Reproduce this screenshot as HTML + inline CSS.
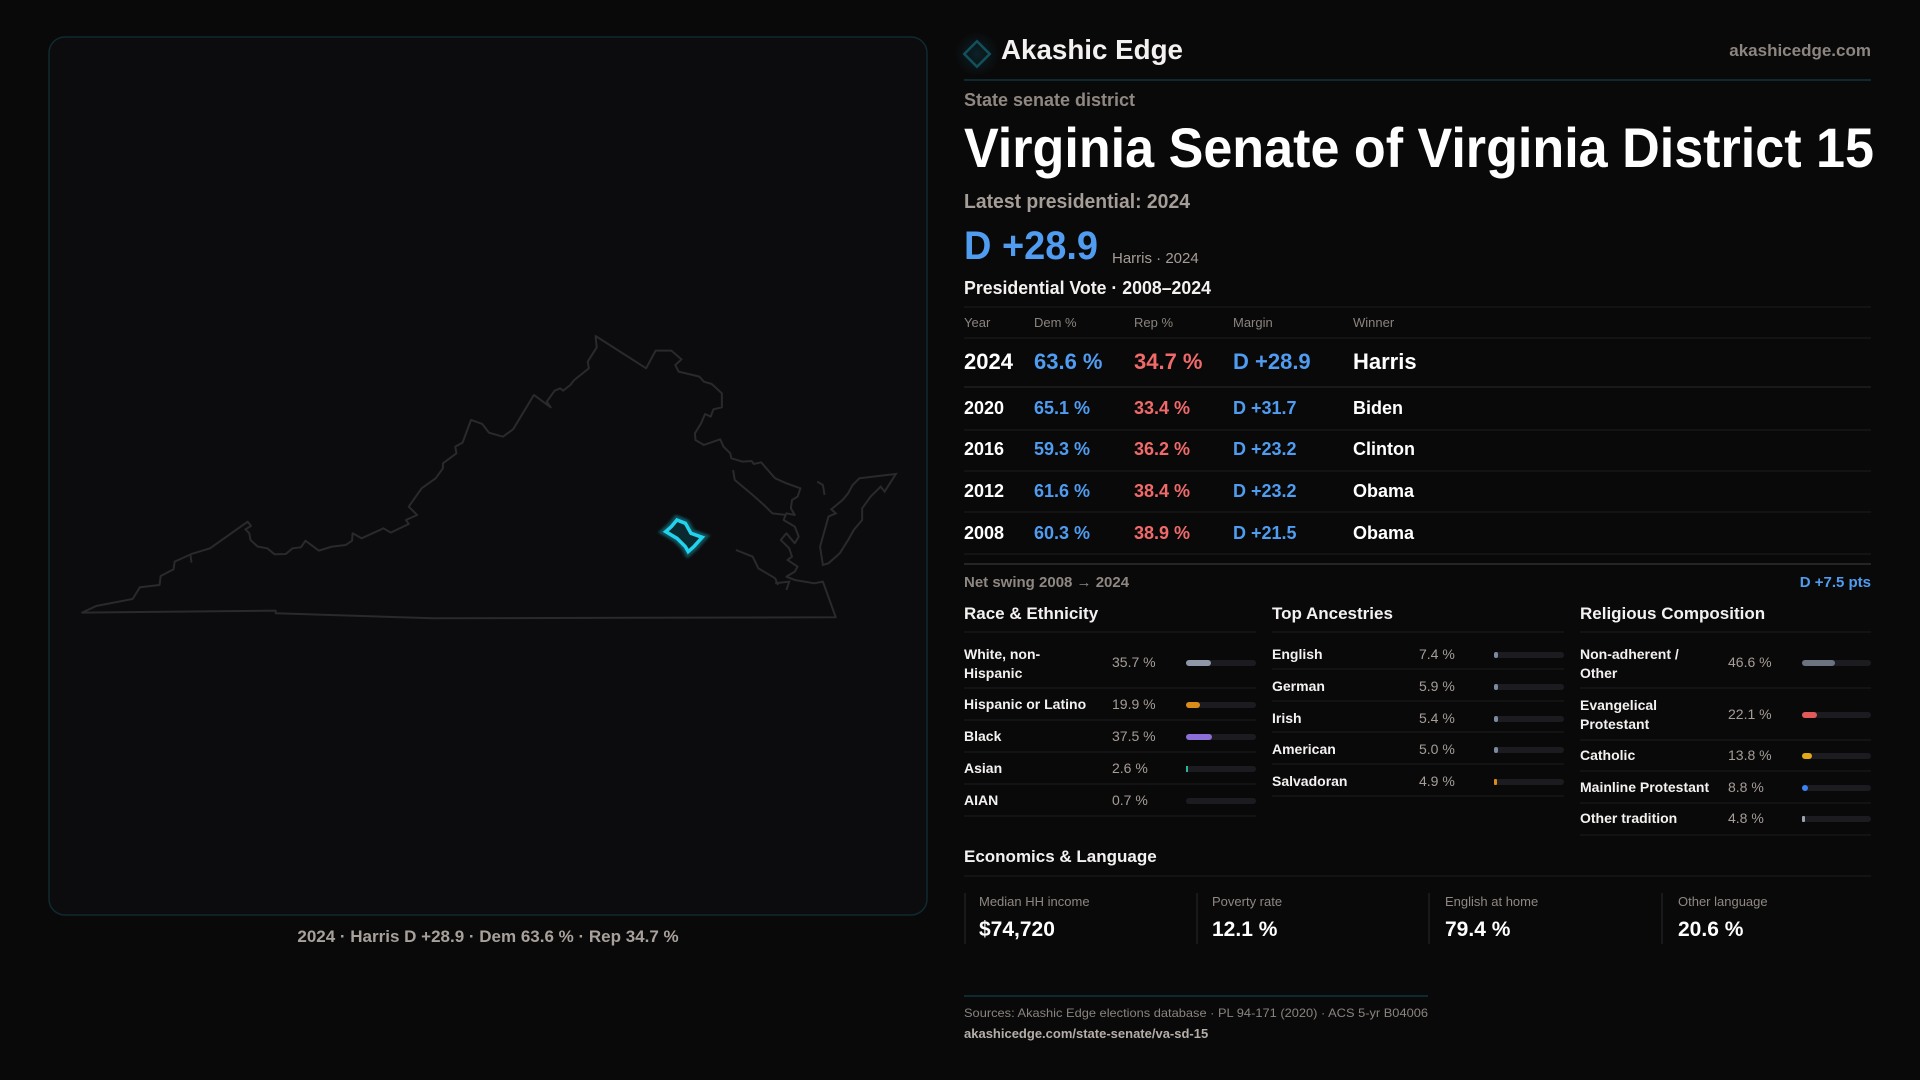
<!DOCTYPE html>
<html><head><meta charset="utf-8"><style>
html,body{margin:0;padding:0;background:#0a090a;}
svg{display:block}
text{font-family:"Liberation Sans",sans-serif;}
</style></head><body>
<svg width="1920" height="1080" viewBox="0 0 1920 1080" xmlns="http://www.w3.org/2000/svg">
<defs>
<filter id="glow" x="-50%" y="-50%" width="200%" height="200%"><feGaussianBlur stdDeviation="3"/></filter>
<radialGradient id="lg" cx="0.5" cy="0.5" r="0.5"><stop offset="0" stop-color="#0d3a44" stop-opacity="0.5"/><stop offset="1" stop-color="#0d3a44" stop-opacity="0"/></radialGradient>
</defs>
<rect width="1920" height="1080" fill="#0a090a"/>
<!-- map panel -->
<rect x="49" y="37" width="878" height="878" rx="16" fill="#0c0b0d" stroke="#0f2a30" stroke-width="1.5"/>
<g transform="translate(40,300) scale(0.5612,0.3333)" fill="none" stroke="#2a292b" stroke-width="2" vector-effect="non-scaling-stroke">
<path vector-effect="non-scaling-stroke" stroke-linejoin="round" d="M75,938 L100,918 165,897 178,862 213,855 215,828 238,808 240,785 270,762 303,745 370,665 376,678 366,688 373,700 375,720 388,740 405,745 418,763 438,762 450,745 465,742 473,722 497,752 520,740 545,735 556,722 557,700 573,715 612,685 625,698 657,672 652,660 672,645 657,620 680,565 705,535 718,505 718,490 742,460 740,440 753,428 768,360 788,372 800,398 825,410 843,388 880,285 910,322 903,305 917,272 927,265 932,272 945,255 952,240 978,205 976,185 992,142 990,108 1080,205 1097,152 1125,152 1143,178 1132,195 1138,215 1175,230 1183,245 1197,252 1215,280 1215,322 1200,328 1195,350 1185,342 1178,370 1167,400 1168,420 1183,435 1212,418 1218,440 1230,460 1232,475 1252,485 1268,483 1272,492 1285,487 1302,520 1310,535 1330,550 1355,565 1350,590 1340,600 1338,625 1345,645 1330,640 1325,660 1345,680 1352,710 1345,730 1330,700 1320,720 1335,745 1340,770 1332,780 1350,800 1345,815 1330,830 1345,840 1380,850 1395,845 1418,952 700,955 420,940 420,932 Z"/>
<path vector-effect="non-scaling-stroke" d="M1405,790 L1395,795 1390,740 1405,650 1418,640 1410,628 1430,600 1440,580 1448,555 1460,535 1525,522 1505,575 1498,560 1480,590 1465,625 1465,660 1450,690 1440,720 1425,760 Z"/>
<path vector-effect="non-scaling-stroke" d="M1235,510 L1238,540 1270,585 1290,615 1305,640 1330,645 M1240,750 L1255,760 1270,770 1280,805 1310,835 1315,855 M1310,850 L1335,845 1330,870 M1385,545 L1395,555 1398,585 M268,765 L270,788"/>
</g>
<g transform="translate(40,300) scale(0.5612,0.3333)">
<path vector-effect="non-scaling-stroke" d="M1135,660 L1150,670 1160,700 1180,712 1165,740 1155,755 1150,740 1135,715 1115,695 1125,680 Z" fill="none" stroke="#22d3ee" stroke-width="9" stroke-opacity="0.35" filter="url(#glow)"/>
<path vector-effect="non-scaling-stroke" d="M1135,660 L1150,670 1160,700 1180,712 1165,740 1155,755 1150,740 1135,715 1115,695 1125,680 Z" fill="#0b2a30" stroke="#22d3ee" stroke-width="3.5"/>
</g>
<text x="488" y="942" text-anchor="middle" font-size="17" font-weight="bold" fill="#a8a19b">2024 · Harris D +28.9 · Dem 63.6 % · Rep 34.7 %</text>

<!-- header -->
<circle cx="977" cy="54" r="22" fill="url(#lg)"/>
<rect x="968" y="45" width="18" height="18" transform="rotate(45 977 54)" fill="none" stroke="#12505c" stroke-width="2.5"/>
<text x="1001" y="59" font-size="28" font-weight="bold" fill="#f4f2f0" textLength="182" lengthAdjust="spacingAndGlyphs">Akashic Edge</text>
<text x="1871" y="56" text-anchor="end" font-size="17" font-weight="bold" fill="#8c8580">akashicedge.com</text>
<line x1="964" y1="80" x2="1871" y2="80" stroke="#10343c" stroke-width="1.5"/>
<text x="964" y="106" font-size="18" font-weight="bold" fill="#8f8781" textLength="171" lengthAdjust="spacingAndGlyphs">State senate district</text>
<text x="964" y="167" font-size="56" font-weight="bold" fill="#ffffff" textLength="910" lengthAdjust="spacingAndGlyphs">Virginia Senate of Virginia District 15</text>
<text x="964" y="208" font-size="20" font-weight="bold" fill="#a59d97" textLength="226" lengthAdjust="spacingAndGlyphs">Latest presidential: 2024</text>
<text x="964" y="259" font-size="40" font-weight="bold" fill="#4f9cf0" textLength="134" lengthAdjust="spacingAndGlyphs">D +28.9</text>
<text x="1112" y="263" font-size="15" fill="#a59d97">Harris · 2024</text>
<text x="964" y="294" font-size="18" font-weight="bold" fill="#f4f2f0" textLength="247" lengthAdjust="spacingAndGlyphs">Presidential Vote · 2008–2024</text>
<line x1="964" y1="307" x2="1871" y2="307" stroke="#1e1d1f"/>
<g font-size="13" fill="#8a837e">
<text x="964" y="327">Year</text><text x="1034" y="327">Dem %</text><text x="1134" y="327">Rep %</text><text x="1233" y="327">Margin</text><text x="1353" y="327">Winner</text>
</g>
<line x1="964" y1="338" x2="1871" y2="338" stroke="#1e1d1f"/>
<g font-size="22" font-weight="bold">
<text x="964" y="369" fill="#fff">2024</text><text x="1034" y="369" fill="#4f9cf0">63.6 %</text><text x="1134" y="369" fill="#f06a6a">34.7 %</text><text x="1233" y="369" fill="#4f9cf0">D +28.9</text><text x="1353" y="369" fill="#fff">Harris</text>
</g>
<line x1="964" y1="387" x2="1871" y2="387" stroke="#2a292b"/>
<g font-size="18" font-weight="bold">
<text x="964" y="414" fill="#fff">2020</text><text x="1034" y="414" fill="#4f9cf0">65.1 %</text><text x="1134" y="414" fill="#f06a6a">33.4 %</text><text x="1233" y="414" fill="#4f9cf0">D +31.7</text><text x="1353" y="414" fill="#fff">Biden</text>
<text x="964" y="455" fill="#fff">2016</text><text x="1034" y="455" fill="#4f9cf0">59.3 %</text><text x="1134" y="455" fill="#f06a6a">36.2 %</text><text x="1233" y="455" fill="#4f9cf0">D +23.2</text><text x="1353" y="455" fill="#fff">Clinton</text>
<text x="964" y="497" fill="#fff">2012</text><text x="1034" y="497" fill="#4f9cf0">61.6 %</text><text x="1134" y="497" fill="#f06a6a">38.4 %</text><text x="1233" y="497" fill="#4f9cf0">D +23.2</text><text x="1353" y="497" fill="#fff">Obama</text>
<text x="964" y="539" fill="#fff">2008</text><text x="1034" y="539" fill="#4f9cf0">60.3 %</text><text x="1134" y="539" fill="#f06a6a">38.9 %</text><text x="1233" y="539" fill="#4f9cf0">D +21.5</text><text x="1353" y="539" fill="#fff">Obama</text>
</g>
<g stroke="#1e1d1f"><line x1="964" y1="430" x2="1871" y2="430"/><line x1="964" y1="471" x2="1871" y2="471"/><line x1="964" y1="512" x2="1871" y2="512"/><line x1="964" y1="554" x2="1871" y2="554"/></g>
<line x1="964" y1="564" x2="1871" y2="564" stroke="#2e2d2f" stroke-width="1.5"/>
<text x="964" y="587" font-size="15" font-weight="bold" fill="#8f8781">Net swing 2008 → 2024</text>
<text x="1871" y="587" text-anchor="end" font-size="15" font-weight="bold" fill="#4f9cf0">D +7.5 pts</text>

<!-- section headers -->
<g font-size="17" font-weight="bold" fill="#f4f2f0">
<text x="964" y="619">Race &amp; Ethnicity</text><text x="1272" y="619">Top Ancestries</text><text x="1580" y="619">Religious Composition</text>
</g>
<g stroke="#1e1d1f"><line x1="964" y1="632" x2="1256" y2="632"/><line x1="1272" y1="632" x2="1564" y2="632"/><line x1="1580" y1="632" x2="1871" y2="632"/></g>
<g font-size="14" font-weight="bold" fill="#f4f2f0">
<text x="964" y="659">White, non-</text><text x="964" y="678">Hispanic</text>
<text x="964" y="709">Hispanic or Latino</text><text x="964" y="741">Black</text><text x="964" y="773">Asian</text><text x="964" y="805">AIAN</text>
<text x="1272" y="659">English</text><text x="1272" y="691">German</text><text x="1272" y="723">Irish</text><text x="1272" y="754">American</text><text x="1272" y="786">Salvadoran</text>
<text x="1580" y="659">Non-adherent /</text><text x="1580" y="678">Other</text>
<text x="1580" y="710">Evangelical</text><text x="1580" y="729">Protestant</text>
<text x="1580" y="760">Catholic</text><text x="1580" y="792">Mainline Protestant</text><text x="1580" y="823">Other tradition</text>
</g>
<g font-size="14" fill="#a59d97">
<text x="1112" y="667">35.7 %</text><text x="1112" y="709">19.9 %</text><text x="1112" y="741">37.5 %</text><text x="1112" y="773">2.6 %</text><text x="1112" y="805">0.7 %</text>
<text x="1419" y="659">7.4 %</text><text x="1419" y="691">5.9 %</text><text x="1419" y="723">5.4 %</text><text x="1419" y="754">5.0 %</text><text x="1419" y="786">4.9 %</text>
<text x="1728" y="667">46.6 %</text><text x="1728" y="719">22.1 %</text><text x="1728" y="760">13.8 %</text><text x="1728" y="792">8.8 %</text><text x="1728" y="823">4.8 %</text>
</g>
<!-- tracks -->
<g fill="#1c1b1f">
<rect x="1186" y="660" width="70" height="6" rx="3"/><rect x="1186" y="702" width="70" height="6" rx="3"/><rect x="1186" y="734" width="70" height="6" rx="3"/><rect x="1186" y="766" width="70" height="6" rx="3"/><rect x="1186" y="798" width="70" height="6" rx="3"/>
<rect x="1494" y="652" width="70" height="6" rx="3"/><rect x="1494" y="684" width="70" height="6" rx="3"/><rect x="1494" y="716" width="70" height="6" rx="3"/><rect x="1494" y="747" width="70" height="6" rx="3"/><rect x="1494" y="779" width="70" height="6" rx="3"/>
<rect x="1802" y="660" width="69" height="6" rx="3"/><rect x="1802" y="712" width="69" height="6" rx="3"/><rect x="1802" y="753" width="69" height="6" rx="3"/><rect x="1802" y="785" width="69" height="6" rx="3"/><rect x="1802" y="816" width="69" height="6" rx="3"/>
</g>
<rect x="1186" y="660" width="25" height="6" rx="3" fill="#8d97a8"/>
<rect x="1186" y="702" width="14" height="6" rx="3" fill="#d98c1a"/>
<rect x="1186" y="734" width="26" height="6" rx="3" fill="#8b6fd6"/>
<rect x="1186" y="766" width="2" height="6" fill="#2bb3a0"/>
<rect x="1494" y="652" width="4" height="6" rx="2" fill="#7c8aa0"/><rect x="1494" y="684" width="4" height="6" rx="2" fill="#7c8aa0"/><rect x="1494" y="716" width="4" height="6" rx="2" fill="#7c8aa0"/><rect x="1494" y="747" width="4" height="6" rx="2" fill="#7c8aa0"/><rect x="1494" y="779" width="3" height="6" rx="1" fill="#d98c1a"/>
<rect x="1802" y="660" width="33" height="6" rx="3" fill="#6b7280"/>
<rect x="1802" y="712" width="15" height="6" rx="3" fill="#e05a5a"/>
<rect x="1802" y="753" width="10" height="6" rx="3" fill="#e0a81a"/>
<rect x="1802" y="785" width="6" height="6" rx="3" fill="#3b82f6"/>
<rect x="1802" y="816" width="3" height="6" rx="1" fill="#9ca3af"/>
<g stroke="#1e1d1f">
<line x1="964" y1="688" x2="1256" y2="688"/><line x1="964" y1="720" x2="1256" y2="720"/><line x1="964" y1="752" x2="1256" y2="752"/><line x1="964" y1="784" x2="1256" y2="784"/><line x1="964" y1="816" x2="1256" y2="816"/>
<line x1="1272" y1="669" x2="1564" y2="669"/><line x1="1272" y1="701" x2="1564" y2="701"/><line x1="1272" y1="732" x2="1564" y2="732"/><line x1="1272" y1="764" x2="1564" y2="764"/><line x1="1272" y1="796" x2="1564" y2="796"/>
<line x1="1580" y1="688" x2="1871" y2="688"/><line x1="1580" y1="740" x2="1871" y2="740"/><line x1="1580" y1="771" x2="1871" y2="771"/><line x1="1580" y1="803" x2="1871" y2="803"/><line x1="1580" y1="835" x2="1871" y2="835"/>
</g>
<!-- economics -->
<text x="964" y="862" font-size="17" font-weight="bold" fill="#f4f2f0">Economics &amp; Language</text>
<line x1="964" y1="876" x2="1871" y2="876" stroke="#1e1d1f"/>
<g stroke="#1e1d1f" stroke-width="1.5"><line x1="965" y1="893" x2="965" y2="944"/><line x1="1197" y1="893" x2="1197" y2="944"/><line x1="1429" y1="893" x2="1429" y2="944"/><line x1="1662" y1="893" x2="1662" y2="944"/></g>
<g font-size="13" fill="#8f8781"><text x="979" y="906">Median HH income</text><text x="1212" y="906">Poverty rate</text><text x="1445" y="906">English at home</text><text x="1678" y="906">Other language</text></g>
<g font-size="21" font-weight="bold" fill="#fff"><text x="979" y="936">$74,720</text><text x="1212" y="936">12.1 %</text><text x="1445" y="936">79.4 %</text><text x="1678" y="936">20.6 %</text></g>
<!-- footer -->
<line x1="964" y1="996" x2="1428" y2="996" stroke="#10343c" stroke-width="1.5"/>
<text x="964" y="1017" font-size="12" fill="#8a837e" textLength="464" lengthAdjust="spacingAndGlyphs">Sources: Akashic Edge elections database · PL 94-171 (2020) · ACS 5-yr B04006</text>
<text x="964" y="1038" font-size="13" font-weight="bold" fill="#b5aea8">akashicedge.com/state-senate/va-sd-15</text>
</svg>
</body></html>
